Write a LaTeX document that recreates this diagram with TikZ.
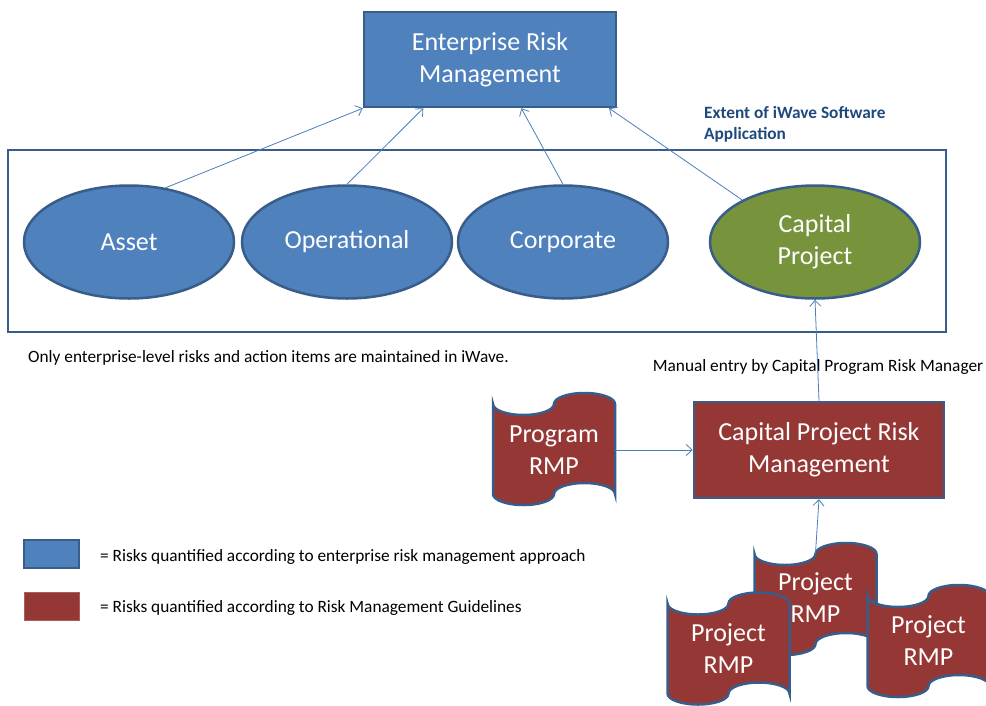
\documentclass[tikz,border=0pt]{standalone}
\usepackage{fontspec}
\setmainfont{Carlito}
\usetikzlibrary{shapes.geometric,arrows.meta,calc}
\definecolor{ermblue}{HTML}{4F81BD}
\definecolor{ermedge}{HTML}{385D8A}
\definecolor{cpgreen}{HTML}{77933C}
\definecolor{rmpred}{HTML}{953735}
\definecolor{linkblue}{HTML}{4A7EBB}
\definecolor{titleblue}{HTML}{1F497D}
% punched tape outline centred at (#1,#2), 122 x 112
\newcommand{\rmptape}[2]{%
  \filldraw[tape] (#1-61,#2-45)
    arc[start angle=180,end angle=0,x radius=30.5,y radius=11]
    arc[start angle=180,end angle=360,x radius=30.5,y radius=11]
    -- (#1+61,#2+45)
    arc[start angle=0,end angle=-180,x radius=30.5,y radius=11]
    arc[start angle=0,end angle=180,x radius=30.5,y radius=11] -- cycle;}
\begin{document}
\begin{tikzpicture}[x=1pt,y=-1pt,
    >={Straight Barb[length=6pt,width=11pt]},
    bigtext/.style={text=white,align=center,font=\fontsize{26}{32}\selectfont},
    ermbox/.style={bigtext,draw=ermedge,fill=ermblue,line width=2.5pt},
    riskoval/.style={bigtext,ellipse,draw=ermedge,fill=ermblue,line width=2.5pt,
      minimum width=210pt,minimum height=113pt,inner sep=0pt},
    tape/.style={draw=ermedge,fill=rmpred,line width=2.5pt},
    tapetext/.style={bigtext,minimum width=122pt,minimum height=90pt,inner sep=0pt},
    link/.style={->,draw=linkblue,line width=0.8pt},
    note/.style={font=\fontsize{17.3}{21}\selectfont,inner sep=0pt}]
  \useasboundingbox (0,0) rectangle (986,705);

  \node (extent) [draw=ermedge,line width=2.5pt,minimum width=938pt,minimum height=182pt] at (477,241) {};
  \node (extlabel) [note,anchor=west,align=left,text=titleblue,font=\fontsize{17.3}{21}\selectfont\bfseries]
    at (704,124.5) {Extent of iWave Software\\Application};

  \node (erm) [ermbox,minimum width=252pt,minimum height=95pt] at (490,59.5) {Enterprise Risk\\Management};

  \node (asset) [riskoval] at (129,242) {Asset};
  \node (oper) [riskoval] at (347,242) {Operational};
  \node (corp) [riskoval] at (563,242) {Corporate};
  \node (cap) [riskoval,fill=cpgreen] at (815,242) {Capital\\Project};

  \node (onlynote) [note,anchor=base west] at (28,362)
    {Only enterprise-level risks and action items are maintained in iWave.};
  \node (manual) [note,anchor=base] at (818,371) {Manual entry by Capital Program Risk Manager};

  \node (cprm) [ermbox,fill=rmpred,minimum width=250pt,minimum height=96pt] at (819,450)
    {Capital Project Risk\\Management};

  \rmptape{554}{449}
  \node (prg) [tapetext] at (554,450) {Program\\RMP};

  \rmptape{815.5}{599}
  \node (prj2) [tapetext] at (815.5,598) {Project\\RMP};
  \rmptape{728.5}{648.5}
  \node (prj1) [tapetext] at (728.5,649) {Project\\RMP};
  \rmptape{928.5}{641}
  \node (prj3) [tapetext] at (928.5,641) {Project\\RMP};

  % legend
  \node (keyblue) [draw=ermedge,fill=ermblue,line width=2.5pt,minimum width=55pt,minimum height=28pt] at (51.5,554) {};
  \node (keyred) [draw=rmpred!80!white,fill=rmpred,line width=1pt,minimum width=55pt,minimum height=28pt] at (51.5,606) {};
  \node (keybluetext) [note,anchor=base west] at (100,561)
    {= Risks quantified according to enterprise risk management approach};
  \node (keyredtext) [note,anchor=base west] at (100,612)
    {= Risks quantified according to Risk Management Guidelines};

  \begin{scope}[link]
    \draw (asset.56) -- (erm.south west);
    \draw (oper.north) -- ($(erm.south west)!0.238!(erm.south east)$);
    \draw (corp.north) -- ($(erm.south west)!0.623!(erm.south east)$);
    \draw (cap.150) -- ($(erm.south west)!0.968!(erm.south east)$);
    \draw (cprm.north) -- (cap.south);
    \draw (prg.east) -- (cprm.west);
    \draw (prj2.north) -- (cprm.south);
  \end{scope}
\end{tikzpicture}
\end{document}
